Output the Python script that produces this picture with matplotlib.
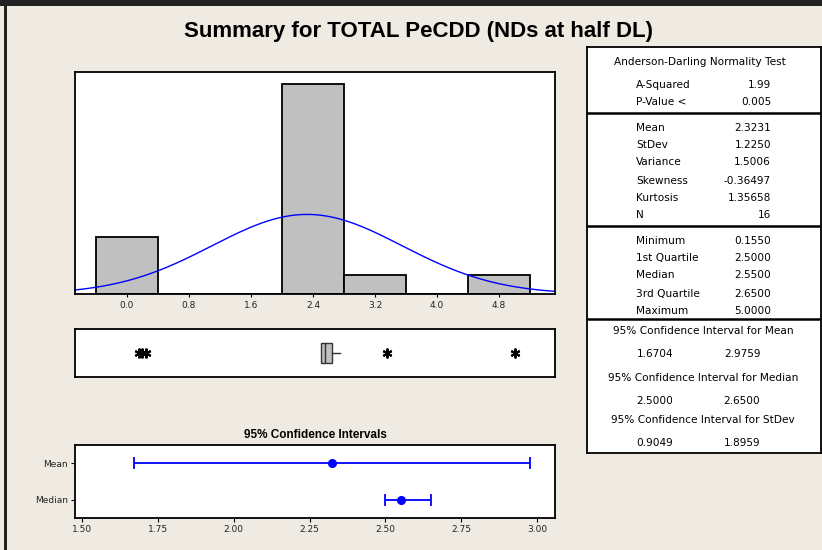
import numpy as np
import matplotlib
matplotlib.use("Agg")
import matplotlib.pyplot as plt
from matplotlib.patches import Rectangle

# histogram data (bin edges width 0.8)
bin_edges = [-0.4, 0.4, 1.2, 2.0, 2.8, 3.6, 4.4, 5.2]
bin_counts = [3, 0, 0, 11, 1, 0, 1]
hist_ticks = [0.0, 0.8, 1.6, 2.4, 3.2, 4.0, 4.8]

# summary stats
n_obs = 16
mean_val = 2.3231
stdev_val = 1.2250
q1, med, q3 = 2.5, 2.55, 2.65
whis_lo, whis_hi = 2.5, 2.75
outliers = [0.155, 0.20, 0.25, 3.35, 5.0]

# confidence intervals
ci_names = ["Mean", "Median"]
ci_center = [2.3231, 2.55]
ci_low = [1.6704, 2.5000]
ci_high = [2.9759, 2.6500]
ci_ticks = [1.50, 1.75, 2.00, 2.25, 2.50, 2.75, 3.00]

# table text
ad_rows = [("A-Squared", "1.99"), ("P-Value <", "0.005")]
mom_rows = [("Mean", "2.3231"), ("StDev", "1.2250"), ("Variance", "1.5006"),
            ("Skewness", "-0.36497"), ("Kurtosis", "1.35658"), ("N", "16")]
q_rows = [("Minimum", "0.1550"), ("1st Quartile", "2.5000"), ("Median", "2.5500"),
          ("3rd Quartile", "2.6500"), ("Maximum", "5.0000")]
ci_rows = [("95% Confidence Interval for Mean", "1.6704", "2.9759"),
           ("95% Confidence Interval for Median", "2.5000", "2.6500"),
           ("95% Confidence Interval for StDev", "0.9049", "1.8959")]

plt.rcParams['font.family'] = ['DejaVu Sans']
W, H = 822, 550
bg = '#EFEBE2'
blue = '#0000FF'

fig = plt.figure(figsize=(W / 100, H / 100), dpi=100, facecolor=bg)


def px_axes(x0, y0, x1, y1):
    return fig.add_axes([x0 / W, 1 - y1 / H, (x1 - x0) / W, (y1 - y0) / H])


# outer frame
fig.add_artist(Rectangle((0, 1 - 6 / H), 1, 6 / H, transform=fig.transFigure,
                         color='#222222', lw=0))
fig.add_artist(Rectangle((4 / W, 0), 3 / W, 1, transform=fig.transFigure,
                         color='#222222', lw=0))

fig.text(418 / W, 1 - 31 / H, "Summary for TOTAL PeCDD (NDs at half DL)",
         ha='center', va='center', fontsize=16, fontweight='bold',
         family=['Liberation Sans Narrow', 'Liberation Sans', 'DejaVu Sans'])

# histogram
ax = px_axes(75, 72, 555, 294)
widths = np.diff(bin_edges)
ax.bar(bin_edges[:-1], bin_counts, width=widths, align='edge',
       color='#C0C0C0', edgecolor='black', linewidth=1.3)
xs = np.linspace(-0.67, 5.52, 300)
pdf = n_obs * 0.8 / (stdev_val * np.sqrt(2 * np.pi)) * np.exp(-0.5 * ((xs - mean_val) / stdev_val) ** 2)
ax.plot(xs, pdf, color=blue, lw=1)
ax.set_xlim(-0.67, 5.52)
ax.set_ylim(0, 11.63)
ax.set_yticks([])
ax.set_xticks(hist_ticks)
ax.set_xticklabels([f"{t:.1f}" for t in hist_ticks], fontsize=6.5, color='#222222')
ax.tick_params(axis='x', length=2, pad=3)
for s in ax.spines.values():
    s.set_linewidth(1.3)

# boxplot
axb = px_axes(75, 329, 555, 377)
axb.bxp([{'med': med, 'q1': q1, 'q3': q3, 'whislo': whis_lo, 'whishi': whis_hi,
          'fliers': outliers}], positions=[1], widths=0.4, vert=False,
        patch_artist=True, showcaps=False,
        boxprops=dict(facecolor='#C0C0C0', edgecolor='#333333', lw=1),
        medianprops=dict(color='#333333', lw=1),
        whiskerprops=dict(color='#333333', lw=1),
        flierprops=dict(marker=(6, 2, 0), markersize=7, markeredgecolor='black',
                        markeredgewidth=1.5))
axb.set_xlim(-0.67, 5.52)
axb.set_ylim(0.5, 1.5)
axb.set_xticks([])
axb.set_yticks([])
for s in axb.spines.values():
    s.set_linewidth(1.3)

# confidence intervals
axc = px_axes(75, 445, 555, 518)
ypos = [1, 0]
for i in range(len(ci_names)):
    axc.errorbar(ci_center[i], ypos[i],
                 xerr=[[ci_center[i] - ci_low[i]], [ci_high[i] - ci_center[i]]],
                 fmt='o', color=blue, ms=5.5, lw=1.3, capsize=4, capthick=1.3)
axc.set_xlim(1.477, 3.059)
axc.set_ylim(-0.5, 1.5)
axc.set_yticks(ypos)
axc.set_yticklabels(ci_names, fontsize=6.5, color='#222222')
axc.set_xticks(ci_ticks)
axc.set_xticklabels([f"{t:.2f}" for t in ci_ticks], fontsize=6.5, color='#222222')
axc.tick_params(length=3, pad=2)
for s in axc.spines.values():
    s.set_linewidth(1.3)
fig.text(315 / W, 1 - 435 / H, "95% Confidence Intervals", ha='center', va='center',
         fontsize=8.5, fontweight='bold', family=['Liberation Sans', 'DejaVu Sans'])

# summary table
axt = px_axes(587, 47, 821, 453)
axt.set_xlim(587, 821)
axt.set_ylim(453, 47)
axt.set_xticks([])
axt.set_yticks([])
for s in axt.spines.values():
    s.set_linewidth(1.3)
for yl in [113, 226, 319]:
    axt.axhline(yl, color='black', lw=1.8)

fs = 7.6
axt.text(700, 62, "Anderson-Darling Normality Test", ha='center', va='center', fontsize=fs)
lab_x, val_x = 636, 771
for (lab, val), y in zip(ad_rows, [85, 102]):
    axt.text(lab_x, y, lab, ha='left', va='center', fontsize=fs)
    axt.text(val_x, y, val, ha='right', va='center', fontsize=fs)
for (lab, val), y in zip(mom_rows, [128, 145, 162, 181, 198, 215]):
    axt.text(lab_x, y, lab, ha='left', va='center', fontsize=fs)
    axt.text(val_x, y, val, ha='right', va='center', fontsize=fs)
for (lab, val), y in zip(q_rows, [241, 258, 275, 294, 311]):
    axt.text(lab_x, y, lab, ha='left', va='center', fontsize=fs)
    axt.text(val_x, y, val, ha='right', va='center', fontsize=fs)
for (hdr, lo, hi), y in zip(ci_rows, [331, 378, 420]):
    axt.text(703, y, hdr, ha='center', va='center', fontsize=fs)
    axt.text(655, y + 23, lo, ha='center', va='center', fontsize=fs)
    axt.text(742, y + 23, hi, ha='center', va='center', fontsize=fs)

fig.savefig("out.png", dpi=100, facecolor=bg)
